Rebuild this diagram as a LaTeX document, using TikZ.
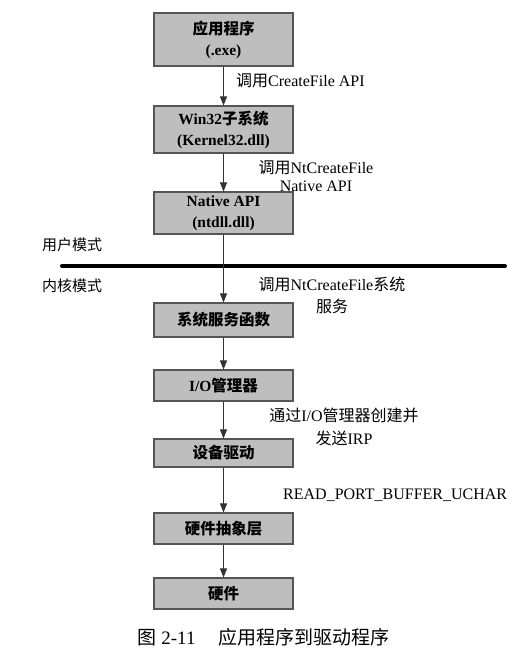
\documentclass[tikz,border=0pt]{standalone}
\usepackage{fontspec}
\setmainfont{Liberation Serif}
\newfontfamily\cjk{Noto Sans CJK SC}
\newcommand\zh[1]{{\cjk #1}}
\usetikzlibrary{arrows.meta}
\definecolor{boxfill}{RGB}{190,190,190}
\definecolor{boxline}{RGB}{85,85,85}
\definecolor{arr}{RGB}{50,50,50}
\tikzset{
  box/.style={draw=boxline, line width=1.1pt, fill=boxfill, minimum width=139pt, inner sep=0pt,
    align=center, font=\fontsize{15.5}{21}\selectfont\bfseries},
  lab/.style={inner sep=0pt, align=center, font=\fontsize{16}{21}\selectfont},
  flow/.style={draw=arr, line width=0.9pt, -{Triangle[length=9pt,width=7pt]}},
}
\begin{document}
\begin{tikzpicture}[x=1pt,y=-1pt]
\useasboundingbox (0,0) rectangle (524,657);
\node[box, minimum height=53pt] (b1) at (223.5,39.5) {\zh{应用程序}\\(.exe)};
\node[box, minimum height=47pt] (b2) at (223.5,129.5) {Win32\zh{子系统}\\(Kernel32.dll)};
\node[box, minimum height=42pt] (b3) at (223.5,213) {Native API\\(ntdll.dll)};
\node[box, minimum height=34pt] (b4) at (223.5,320) {\zh{系统服务函数}};
\node[box, minimum height=31pt] (b5) at (223.5,385.5) {I/O\zh{管理器}};
\node[box, minimum height=28pt] (b6) at (223.5,453) {\zh{设备驱动}};
\node[box, minimum height=31pt] (b7) at (223.5,528.5) {\zh{硬件抽象层}};
\node[box, minimum height=31pt] (b8) at (223.5,593.5) {\zh{硬件}};
% mode line
\coordinate (ml) at (62,266);
\coordinate (mr) at (505,266);
\draw[line width=4pt, line cap=round] (ml) -- (mr);
\node[lab, font=\fontsize{15}{21}\selectfont] (um) at (72,245) {\zh{用户模式}};
\node[lab, font=\fontsize{15}{21}\selectfont] (km) at (72,286) {\zh{内核模式}};
% arrows
\draw[flow] (b1) -- (b2);
\draw[flow] (b2) -- (b3);
\draw[flow] (b3) -- (b4);
\draw[flow] (b4) -- (b5);
\draw[flow] (b5) -- (b6);
\draw[flow] (b6) -- (b7);
\draw[flow] (b7) -- (b8);
% labels
\node[lab, anchor=west] (l1) at (236,81) {\zh{调用}CreateFile API};
\node[lab, font=\fontsize{16}{18}\selectfont] (l2) at (316,176) {\zh{调用}NtCreateFile\\Native API};
\node[lab, font=\fontsize{16}{22}\selectfont] (l3) at (332,295) {\zh{调用}NtCreateFile\zh{系统}\\\zh{服务}};
\node[lab, font=\fontsize{16}{23}\selectfont] (l4) at (344,426.5) {\zh{通过}I/O\zh{管理器创建并}\\\zh{发送}IRP};
\node[lab, anchor=west] (l5) at (283,495) {READ\_PORT\_BUFFER\_UCHAR};
% caption
\node[lab, font=\fontsize{19}{22}\selectfont] (cap) at (263.5,637) {\zh{图} 2-11\hspace{1.2em}\zh{应用程序到驱动程序}};
\end{tikzpicture}
\end{document}
